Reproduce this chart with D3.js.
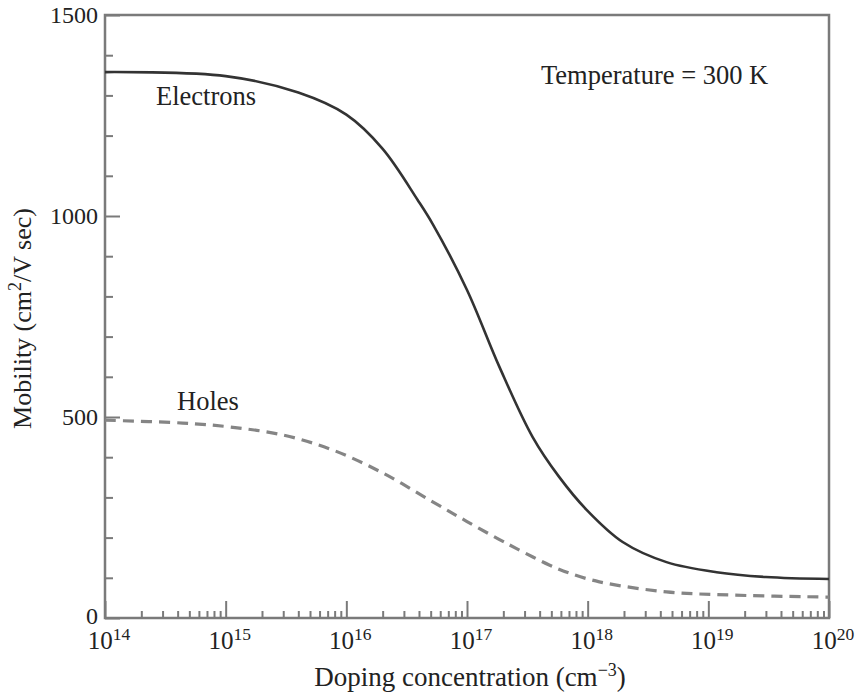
<!DOCTYPE html>
<html>
<head>
<meta charset="utf-8">
<script src="https://cdn.jsdelivr.net/npm/d3@7"></script>
<style>
  body { margin: 0; background: #fff; }
  svg { display: block; }
  text { font-family: "Liberation Serif", "Times New Roman", serif; fill: #222; }
</style>
</head>
<body>
<svg id="chart" width="855" height="693"></svg>
<script>
// ---- data ----
const electronN  = [1e14, 1e15, 4e15, 1e16, 2e16, 3.9e16, 5.2e16, 1e17, 1.86e17, 3.5e17, 5.8e17, 9.8e17, 1.95e18, 4.5e18, 1.17e19, 3e19, 1e20];
const electronMu = [1358, 1348, 1307, 1252, 1167, 1040, 980, 816, 624, 450, 351, 269, 189, 139, 114, 102, 97];
const holeN  = [1e14, 4.4e14, 1.1e15, 3e15, 7.7e15, 2e16, 5.2e16, 1e17, 1.86e17, 2.6e17, 4.8e17, 7e17, 1.25e18, 4.5e18, 1.6e19, 1e20];
const holeMu = [492, 485, 475, 455, 418, 361, 289, 240, 195, 172, 132, 112, 90, 65, 57, 52];
const xDecades = [14, 15, 16, 17, 18, 19, 20];
const yMajor = [0, 500, 1000, 1500];
const yMinor = [100, 200, 300, 400, 600, 700, 800, 900, 1100, 1200, 1300, 1400];

// ---- layout ----
const W = 855, H = 693;
const m = { left: 105, right: 26, top: 15, bottom: 75 };
const svg = d3.select("#chart");
const x = d3.scaleLog().domain([1e14, 1e20]).range([m.left, W - m.right]);
const y = d3.scaleLinear().domain([0, 1500]).range([H - m.bottom, m.top]);
const axisColor = "#7a7a7a";

// frame
svg.append("rect")
  .attr("x", x(1e14)).attr("y", y(1500))
  .attr("width", x(1e20) - x(1e14)).attr("height", y(0) - y(1500))
  .attr("fill", "none").attr("stroke", axisColor).attr("stroke-width", 2.5);

// y ticks (inside)
const yAxisMajor = d3.axisRight(y).tickValues(yMajor).tickSize(15).tickFormat("");
const yAxisMinor = d3.axisRight(y).tickValues(yMinor).tickSize(8).tickFormat("");
[yAxisMajor, yAxisMinor].forEach(ax => {
  const g = svg.append("g").attr("transform", `translate(${x(1e14)},0)`).call(ax);
  g.select(".domain").remove();
  g.selectAll("line").attr("stroke", axisColor).attr("stroke-width", 2);
});
// y tick labels
svg.append("g").selectAll("text").data(yMajor).join("text")
  .attr("x", x(1e14) - 7).attr("y", d => y(d)).attr("dy", d => d === 0 ? "0.25em" : "0.35em")
  .attr("text-anchor", "end").attr("font-size", 24)
  .text(d => d);

// x ticks (inside, pointing up)
const xMajorVals = xDecades.map(e => Math.pow(10, e));
const xMinorVals = [];
xDecades.slice(0, -1).forEach(e => { for (let k = 2; k <= 9; k++) xMinorVals.push(k * Math.pow(10, e)); });
const xAxisMajor = d3.axisTop(x).tickValues(xMajorVals).tickSize(17).tickFormat("");
const xAxisMinor = d3.axisTop(x).tickValues(xMinorVals).tickSize(7).tickFormat("");
[xAxisMajor, xAxisMinor].forEach(ax => {
  const g = svg.append("g").attr("transform", `translate(0,${y(0)})`).call(ax);
  g.select(".domain").remove();
  g.selectAll("line").attr("stroke", axisColor).attr("stroke-width", 2);
});
// x tick labels 10^n
const xl = svg.append("g").selectAll("text").data(xDecades).join("text")
  .attr("x", d => x(Math.pow(10, d)) + 4).attr("y", y(0) + 31)
  .attr("text-anchor", "middle").attr("font-size", 25);
xl.append("tspan").text("10");
xl.append("tspan").attr("font-size", 17.5).attr("dy", -9).text(d => d);

// lines
const line = d3.line().x(d => x(d[0])).y(d => y(d[1])).curve(d3.curveCatmullRom.alpha(0.5));
svg.append("path")
  .datum(electronN.map((n, i) => [n, electronMu[i]]))
  .attr("d", line).attr("fill", "none")
  .attr("stroke", "#333").attr("stroke-width", 2.6);
svg.append("path")
  .datum(holeN.map((n, i) => [n, holeMu[i]]))
  .attr("d", line).attr("fill", "none")
  .attr("stroke", "#858585").attr("stroke-width", 3.2)
  .attr("stroke-dasharray", "11,7");

// annotations
svg.append("text").attr("x", 156).attr("y", 105).attr("font-size", 26.5).text("Electrons");
svg.append("text").attr("x", 177).attr("y", 410).attr("font-size", 26.5).text("Holes");
svg.append("text").attr("x", 541).attr("y", 84).attr("font-size", 26.5).text("Temperature = 300 K");

// axis titles
const xt = svg.append("text").attr("x", (x(1e14) + x(1e20)) / 2 + 3).attr("y", 686)
  .attr("text-anchor", "middle").attr("font-size", 27);
xt.append("tspan").text("Doping concentration (cm");
xt.append("tspan").attr("font-size", 18).attr("dy", -10).text("\u22123");
xt.append("tspan").attr("dy", 10).text(")");

const yt = svg.append("text")
  .attr("transform", `translate(31,${(y(0) + y(1500)) / 2 + 2}) rotate(-90)`)
  .attr("text-anchor", "middle").attr("font-size", 26);
yt.append("tspan").text("Mobility (cm");
yt.append("tspan").attr("font-size", 18).attr("dy", -10).text("2");
yt.append("tspan").attr("dy", 10).text("/V sec)");
</script>
</body>
</html>
